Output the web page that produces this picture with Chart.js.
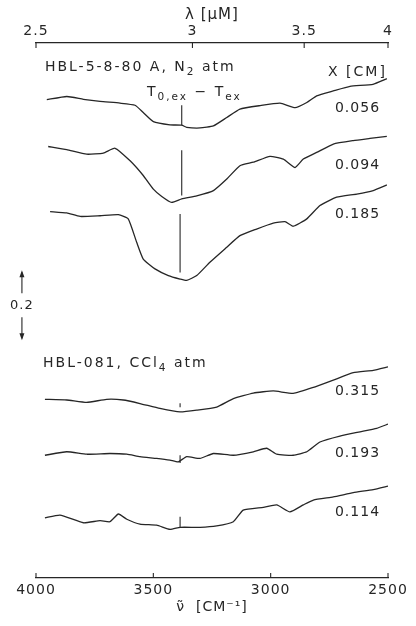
<!DOCTYPE html>
<html>
<head>
<meta charset="utf-8">
<script src="https://cdn.jsdelivr.net/npm/chart.js@4.4.1/dist/chart.umd.min.js"></script>
<style>
  body { margin: 0; background: #fff; }
  canvas { display: block; }
</style>
</head>
<body>
<canvas id="spectra" width="416" height="626"></canvas>
<script>
// --- 1. DATA ---

// wavenumber axis (cm^-1) and wavelength ticks (um) of the top axis
const nuTicks = [4000, 3500, 3000, 2500];
const lambdaTicks = [2.5, 3, 3.5, 4];

// path lengths X [cm], one per trace
const seriesLabels = ['0.056', '0.094', '0.185', '0.315', '0.193', '0.114'];

// HBL-5-8-80A, N2 atm
const nu056 = [3954, 3869, 3798, 3727, 3642, 3578, 3543, 3500, 3429, 3379, 3358, 3301, 3244, 3187, 3131, 3045, 2960, 2896, 2846, 2804, 2733, 2662, 2564, 2505];
const val056 = [1.368, 1.377, 1.369, 1.363, 1.358, 1.352, 1.331, 1.305, 1.296, 1.295, 1.289, 1.287, 1.293, 1.317, 1.341, 1.351, 1.358, 1.345, 1.360, 1.379, 1.393, 1.406, 1.412, 1.428];

const nu094 = [3948, 3869, 3784, 3713, 3663, 3599, 3543, 3500, 3464, 3422, 3379, 3315, 3244, 3187, 3131, 3074, 3003, 2946, 2896, 2861, 2804, 2733, 2648, 2577, 2505];
const val094 = [1.234, 1.225, 1.212, 1.215, 1.229, 1.193, 1.151, 1.112, 1.091, 1.074, 1.084, 1.093, 1.108, 1.141, 1.179, 1.189, 1.206, 1.198, 1.174, 1.198, 1.217, 1.241, 1.251, 1.257, 1.263];

const nu185 = [3940, 3869, 3812, 3727, 3649, 3607, 3571, 3543, 3493, 3436, 3386, 3358, 3315, 3259, 3187, 3131, 3060, 2989, 2939, 2904, 2846, 2790, 2719, 2633, 2563, 2505];
const val185 = [1.048, 1.044, 1.034, 1.036, 1.039, 1.027, 0.960, 0.912, 0.884, 0.865, 0.855, 0.851, 0.865, 0.903, 0.946, 0.979, 0.998, 1.015, 1.019, 1.006, 1.027, 1.065, 1.089, 1.098, 1.108, 1.124];

// HBL-081, CCl4 atm
const nu315 = [3962, 3869, 3784, 3699, 3628, 3557, 3472, 3386, 3315, 3230, 3159, 3074, 2989, 2904, 2818, 2733, 2648, 2563, 2500];
const val315 = [0.511, 0.509, 0.502, 0.511, 0.509, 0.499, 0.485, 0.475, 0.480, 0.489, 0.513, 0.529, 0.535, 0.528, 0.545, 0.566, 0.587, 0.594, 0.604];

const nu193 = [3962, 3869, 3784, 3685, 3613, 3557, 3486, 3429, 3394, 3358, 3301, 3244, 3159, 3074, 3017, 2974, 2904, 2846, 2790, 2705, 2619, 2548, 2500];
const val193 = [0.351, 0.361, 0.354, 0.356, 0.354, 0.347, 0.342, 0.337, 0.332, 0.347, 0.342, 0.356, 0.351, 0.361, 0.371, 0.354, 0.351, 0.361, 0.389, 0.406, 0.418, 0.428, 0.440];

const nu114 = [3962, 3898, 3798, 3727, 3685, 3649, 3613, 3557, 3486, 3429, 3386, 3301, 3230, 3159, 3117, 3031, 2974, 2918, 2861, 2818, 2733, 2648, 2563, 2500];
const val114 = [0.172, 0.180, 0.158, 0.164, 0.161, 0.183, 0.168, 0.154, 0.151, 0.139, 0.145, 0.145, 0.149, 0.161, 0.194, 0.202, 0.209, 0.189, 0.209, 0.223, 0.232, 0.244, 0.253, 0.263];

const traces = [[nu056, val056], [nu094, val094], [nu185, val185], [nu315, val315], [nu193, val193], [nu114, val114]];

// vertical markers of T0,ex - Tex on each trace
const markerNu = [3379, 3379, 3386, 3386, 3386, 3386];
const markerFrom = [1.295, 1.094, 0.874, 0.488, 0.329, 0.146];
const markerTo = [1.352, 1.223, 1.041, 0.500, 0.351, 0.175];

// --- 2. LAYOUT OF THE TEXT ON THE PLOT ---

const INK = '#262626';
const FONT = '"DejaVu Sans", sans-serif';
const labelNu = 2630;
const labelVal = [1.343, 1.179, 1.041, 0.535, 0.356, 0.189];

const notes = [
    { nu: 3962, v: 1.460, align: 'left', parts: [{ t: 'HBL-5-8-80 A, N' }, { t: '2', sub: true }, { t: ' atm' }] },
    { nu: 2630, v: 1.446, align: 'center', parts: [{ t: 'X [CM]' }] },
    { nu: 3527, v: 1.389, align: 'left', parts: [{ t: 'T' }, { t: '0,ex', sub: true }, { t: ' − T' }, { t: 'ex', sub: true }] },
    { nu: 3970, v: 0.614, align: 'left', parts: [{ t: 'HBL-081, CCl' }, { t: '4', sub: true }, { t: ' atm' }] }
];

// scale bar (0.2 in transmission)
const barNu = 4060;
const barTop = 0.88;
const barSize = 0.2;

// --- 3. HELPERS ---

function partsWidth(ctx, parts, size) {
    let w = 0;
    parts.forEach(p => {
        ctx.font = (p.sub ? size * 0.75 : size) + 'px ' + FONT;
        w += ctx.measureText(p.t).width;
    });
    return w;
}

function drawParts(ctx, x, y, parts, size, align) {
    let cx = x;
    if (align === 'center') cx = x - partsWidth(ctx, parts, size) / 2;
    ctx.textAlign = 'left';
    ctx.textBaseline = 'middle';
    parts.forEach(p => {
        const s = p.sub ? size * 0.75 : size;
        ctx.font = s + 'px ' + FONT;
        ctx.fillText(p.t, cx, p.sub ? y + size * 0.35 : y);
        cx += ctx.measureText(p.t).width;
    });
}

function line(ctx, x1, y1, x2, y2) {
    ctx.beginPath();
    ctx.moveTo(x1, y1);
    ctx.lineTo(x2, y2);
    ctx.stroke();
}

function arrowHead(ctx, x, y, dir) {
    ctx.beginPath();
    ctx.moveTo(x, y);
    ctx.lineTo(x - 2.5, y - dir * 7);
    ctx.lineTo(x + 2.5, y - dir * 7);
    ctx.closePath();
    ctx.fill();
}

// --- 4. PLUGIN FOR TICKS, LABELS AND MARKERS ---

const figureExtras = {
    id: 'figureExtras',
    beforeLayout(chart) { chart.ctx.letterSpacing = '1px'; },
    beforeDraw(chart) { chart.ctx.letterSpacing = '1px'; },
    afterDraw(chart) {
        const ctx = chart.ctx;
        const xs = chart.scales.x;
        const xt = chart.scales.xTop;
        const ys = chart.scales.y;
        ctx.save();
        ctx.strokeStyle = INK;
        ctx.fillStyle = INK;
        ctx.lineWidth = 1.1;

        // inward tick marks
        xs.ticks.forEach(t => {
            const px = xs.getPixelForValue(t.value);
            line(ctx, px, xs.top, px, xs.top - 5);
        });
        xt.ticks.forEach(t => {
            const px = xt.getPixelForValue(t.value);
            line(ctx, px, xt.bottom, px, xt.bottom + 5);
        });

        // markers on the traces
        markerNu.forEach((nu, i) => {
            const px = xs.getPixelForValue(nu);
            line(ctx, px, ys.getPixelForValue(markerFrom[i]), px, ys.getPixelForValue(markerTo[i]));
        });

        // path length labels
        ctx.letterSpacing = '1px';
        seriesLabels.forEach((lab, i) => {
            drawParts(ctx, xs.getPixelForValue(labelNu), ys.getPixelForValue(labelVal[i]), [{ t: lab }], 14, 'center');
        });

        // sample notes, lettered wider
        ctx.letterSpacing = '2px';
        notes.forEach(n => {
            drawParts(ctx, xs.getPixelForValue(n.nu), ys.getPixelForValue(n.v), n.parts, 14, n.align);
        });

        // scale bar
        ctx.letterSpacing = '1px';
        const bx = xs.getPixelForValue(barNu);
        const yTop = ys.getPixelForValue(barTop);
        const yBot = ys.getPixelForValue(barTop - barSize);
        const yMid = (yTop + yBot) / 2;
        line(ctx, bx, yTop + 2, bx, yMid - 12);
        arrowHead(ctx, bx, yTop, -1);
        line(ctx, bx, yMid + 12, bx, yBot - 2);
        arrowHead(ctx, bx, yBot, 1);
        drawParts(ctx, bx, yMid, [{ t: '0.2' }], 13, 'center');

        ctx.restore();
    }
};

// --- 5. CHART ---

const ctx = document.getElementById('spectra').getContext('2d');
const spectraChart = new Chart(ctx, {
    type: 'line',
    data: {
        datasets: traces.map(([nu, val], i) => ({
            label: seriesLabels[i],
            data: nu.map((x, k) => ({ x: x, y: val[k] })),
            borderColor: INK,
            borderWidth: 1.3,
            pointRadius: 0,
            tension: 0.15,
            fill: false
        }))
    },
    options: {
        responsive: false,
        animation: false,
        layout: { padding: { left: 36, right: 28, top: 0, bottom: 0 } },
        plugins: {
            legend: { display: false },
            tooltip: { enabled: false }
        },
        scales: {
            x: {
                type: 'linear',
                position: 'bottom',
                min: 2500,
                max: 4000,
                reverse: true,
                afterBuildTicks: scale => { scale.ticks = nuTicks.map(v => ({ value: v })); },
                afterFit: scale => { scale.height = 48; },
                ticks: {
                    padding: 4,
                    color: INK,
                    font: { family: FONT, size: 14 },
                    callback: v => String(v)
                },
                grid: { drawOnChartArea: false, drawTicks: false },
                border: { display: true, color: INK, width: 1.2 },
                title: {
                    display: true,
                    text: 'ν̃  [CM⁻¹]',
                    color: INK,
                    font: { family: FONT, size: 14 },
                    padding: { top: 0, bottom: 10 }
                }
            },
            xTop: {
                type: 'linear',
                position: 'top',
                min: 2500,
                max: 4000,
                reverse: true,
                afterBuildTicks: scale => { scale.ticks = lambdaTicks.map(l => ({ value: 10000 / l })); },
                afterFit: scale => { scale.height = 43; },
                ticks: {
                    padding: 3,
                    color: INK,
                    font: { family: FONT, size: 14 },
                    callback: v => String(Math.round(100000 / v) / 10)
                },
                grid: { drawOnChartArea: false, drawTicks: false },
                border: { display: true, color: INK, width: 1.2 },
                title: {
                    display: true,
                    text: 'λ [μM]',
                    color: INK,
                    font: { family: FONT, size: 15 },
                    padding: { top: 6, bottom: 0 }
                }
            },
            y: {
                type: 'linear',
                display: false,
                min: 0,
                max: 1.53
            }
        }
    },
    plugins: [figureExtras]
});
</script>
</body>
</html>
